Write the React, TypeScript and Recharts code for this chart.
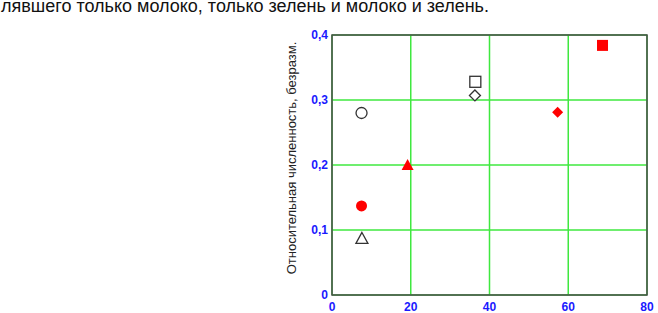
import {
  ScatterChart,
  Scatter,
  XAxis,
  YAxis,
  CartesianGrid,
  ReferenceArea,
  Label,
} from "recharts";

// Points: [x, relative abundance]
const openCircle = [{ x: 7.5, y: 0.28 }];
const redCircle = [{ x: 7.5, y: 0.137 }];
const openTriangle = [{ x: 7.6, y: 0.087 }];
const redTriangle = [{ x: 19.2, y: 0.2 }];
const openSquare = [{ x: 36.4, y: 0.328 }];
const openDiamond = [{ x: 36.3, y: 0.307 }];
const redDiamond = [{ x: 57.3, y: 0.281 }];
const redSquare = [{ x: 68.7, y: 0.384 }];

const xTicks = [0, 20, 40, 60, 80];
const yTicks = [0, 0.1, 0.2, 0.3, 0.4];

const RED = "#ff0000";
const DARK = "#333333";
const FONT = "Liberation Sans, Arial, sans-serif";

type Kind = "circle" | "triangle" | "square" | "diamond";

function marker(kind: Kind, filled: boolean) {
  const fill = filled ? RED : "#ffffff";
  const stroke = filled ? RED : DARK;
  const sw = filled ? 0 : 1.3;
  return (props: any) => {
    const { cx, cy } = props;
    const r = 5.5;
    if (kind === "circle") return <circle cx={cx} cy={cy} r={r} fill={fill} stroke={stroke} strokeWidth={sw} />;
    if (kind === "square")
      return <rect x={cx - r} y={cy - r} width={r * 2} height={r * 2} fill={fill} stroke={stroke} strokeWidth={sw} />;
    if (kind === "diamond")
      return (
        <polygon
          points={`${cx},${cy - r} ${cx + r},${cy} ${cx},${cy + r} ${cx - r},${cy}`}
          fill={fill}
          stroke={stroke}
          strokeWidth={sw}
        />
      );
    return (
      <polygon
        points={`${cx},${cy - r - 0.5} ${cx + r + 0.5},${cy + r - 0.5} ${cx - r - 0.5},${cy + r - 0.5}`}
        fill={fill}
        stroke={stroke}
        strokeWidth={sw}
      />
    );
  };
}

const tickStyle = { fill: "#1a1aff", fontSize: 12, fontWeight: 700, fontFamily: FONT };

export default function App() {
  return (
    <div style={{ position: "absolute", left: 0, top: 0, width: 658, height: 313, background: "#fff" }}>
      <div
        style={{
          position: "absolute",
          left: 1,
          top: -4,
          fontFamily: FONT,
          fontSize: 18,
          color: "#111",
          whiteSpace: "nowrap",
        }}
      >
        лявшего только молоко, только зелень и молоко и зелень.
      </div>
      <ScatterChart width={658} height={313} margin={{ top: 35, right: 11, bottom: 0, left: 0 }}>
        <CartesianGrid stroke="#3fe83f" strokeWidth={1.5} />
        <XAxis
          type="number"
          dataKey="x"
          domain={[0, 80]}
          ticks={xTicks}
          interval={0}
          height={18}
          tickLine={false}
          axisLine={false}
          tick={tickStyle}
          tickSize={0}
          tickMargin={7}
        />
        <YAxis
          type="number"
          dataKey="y"
          domain={[0, 0.4]}
          ticks={yTicks}
          interval={0}
          width={332}
          tickLine={false}
          axisLine={false}
          tick={tickStyle}
          tickSize={0}
          tickMargin={4}
          tickFormatter={(v: number) => String(v).replace(".", ",")}
        >
          <Label
            content={() => (
              <text
                x={296}
                y={158}
                transform="rotate(-90 296 158)"
                textAnchor="middle"
                fontFamily={FONT}
                fontSize={13}
                fill="#222"
              >
                Относительная численность, безразм.
              </text>
            )}
          />
        </YAxis>
        <ReferenceArea x1={0} x2={80} y1={0} y2={0.4} fill="none" stroke="#4a4a4a" strokeWidth={1.5} fillOpacity={0} />
        <Scatter data={openCircle} shape={marker("circle", false)} isAnimationActive={false} />
        <Scatter data={redCircle} shape={marker("circle", true)} isAnimationActive={false} />
        <Scatter data={openTriangle} shape={marker("triangle", false)} isAnimationActive={false} />
        <Scatter data={redTriangle} shape={marker("triangle", true)} isAnimationActive={false} />
        <Scatter data={openSquare} shape={marker("square", false)} isAnimationActive={false} />
        <Scatter data={openDiamond} shape={marker("diamond", false)} isAnimationActive={false} />
        <Scatter data={redDiamond} shape={marker("diamond", true)} isAnimationActive={false} />
        <Scatter data={redSquare} shape={marker("square", true)} isAnimationActive={false} />
      </ScatterChart>
    </div>
  );
}
